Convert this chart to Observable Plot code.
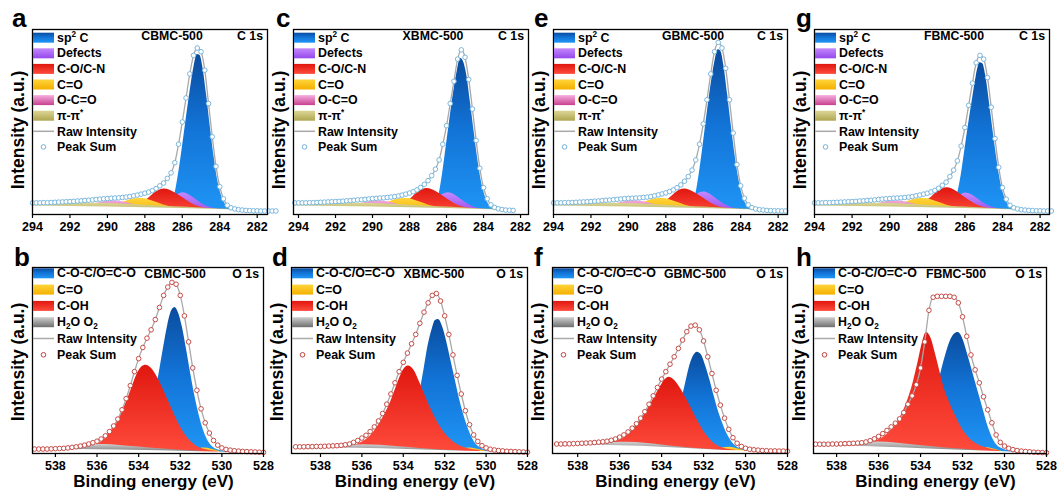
<!DOCTYPE html>
<html><head><meta charset="utf-8">
<script src="https://cdn.jsdelivr.net/npm/d3@7"></script>
<script src="https://cdn.jsdelivr.net/npm/@observablehq/plot@0.6"></script>
<style>
html,body{margin:0;padding:0;background:#fff;}
#root{position:relative;width:1059px;height:492px;overflow:hidden;background:#fff;font-family:"Liberation Sans",Arial,sans-serif;}
#root svg{position:absolute;}
</style></head><body><div id="root"></div>
<script>
// ---------------- data ----------------
const STEP = 0.2;
const c1sTicks = [294, 292, 290, 288, 286, 284, 282];
const o1sTicks = [538, 536, 534, 532, 530, 528];
const samples = ["CBMC-500", "XBMC-500", "GBMC-500", "FBMC-500"];
const c1sLegend = ["sp^2 C", "Defects", "C-O/C-N", "C=O", "O-C=O", "π-π^*"];
const o1sLegend = ["C-O-C/O=C-O", "C=O", "C-OH", "H_2O O_2"];
const lineLegend = ["Raw Intensity", "Peak Sum"];

// Peak-sum intensities on a 0.2 eV grid (start energy given per panel)
const sumA = [6.3,6.3,6.3,6.4,6.4,6.5,6.6,6.7,6.8,6.9,7.0,7.1,7.3,7.4,7.6,7.7,7.9,8.1,8.3,8.5,8.6,8.8,8.9,9.0,9.2,9.4,9.7,10.1,10.5,11.0,11.5,
  12.1,12.9,14.0,15.5,17,19.5,22.5,28,38,50,63,76,86,90,88,78,60,42,26,15,8.5,5,3.6,3.0,2.6,2.4,2.2,2.1,2.0,2.0,1.9,1.9,1.9,1.9,1.9];
const sumC = [6.3,6.3,6.3,6.3,6.4,6.4,6.5,6.6,6.7,6.8,6.9,7.0,7.1,7.2,7.4,7.5,7.7,7.9,8.0,8.2,8.4,8.6,8.7,8.9,9.0,9.2,9.4,9.7,10.0,10.5,11.0,11.6,
  12.3,13.3,14.6,16.3,18.3,21,24.5,29.5,38,48,60,72,84,89,85,73,57,40,25,14.5,8.5,5.2,3.8,3.1,2.7,2.4,2.3,2.2];
const sumE = [6.3,6.3,6.3,6.4,6.4,6.5,6.6,6.7,6.8,6.9,7.0,7.2,7.3,7.5,7.7,7.8,8.0,8.2,8.4,8.6,8.7,8.8,8.9,9.0,9.2,9.4,9.7,10.1,10.6,11.1,11.7,
  12.4,13.3,14.5,16,18,20.5,24,29.5,38,49,62,76,88,93,90,79,62,44,27,15.5,8.8,5.2,3.7,3.0,2.6,2.4,2.2,2.1,2.0,2.0,1.9,1.9];
const sumG = [6.3,6.3,6.3,6.4,6.4,6.5,6.6,6.7,6.8,6.9,7.0,7.1,7.3,7.4,7.6,7.7,7.9,8.1,8.3,8.5,8.6,8.8,8.9,9.0,9.2,9.4,9.7,10.1,10.5,11.0,11.5,
  12.2,13.0,14.2,15.8,17.5,20.5,24,29,37,47,59,71,82,86,84,74,58,41,25.5,14.5,8.3,5,3.6,3.0,2.6,2.4,2.2,2.1,2.0,2.0,1.9,1.9,1.9];
const sumB = [2.4,2.4,2.4,2.4,2.5,2.6,2.7,2.8,3.0,3.3,3.6, 4.0,4.5,5.1,5.8,6.6,7.8,9.5,11.8,14.8,18.5, 23.5,29.5,36.5,44,51,57,62,66.5,72,78.5,
  85,89.5,92,91,85,74,60,46,34,24, 16.5,11,7,4.5,3.0,2.2,1.8,1.5,1.3,1.1, 1.0,0.9,0.8,0.7,0.6];
const sumD = [3.6,3.6,3.6,3.7,3.7,3.8,3.8,3.9,4.0,4.1,4.2,4.4, 4.7,5.1,6.0,7.0,8.3,9.8,11.8,14.3,17.5,21.5, 26.5,32,38,44,49,54,59,64,70,76,
  81,85,86,82,74,64,53,42,32,23, 15.5,10,6.5,4.2,3.0,2.3,1.9,1.6,1.4,1.2, 1.1,1.0,0.9,0.8,0.7];
const sumF = [5.1,5.1,5.2,5.2,5.3,5.4,5.5,5.6,5.7,5.9,6.1, 6.3,6.6,7.1,7.8,8.8,10.0,11.6,13.6,16,19, 22.5,26.5,31,35.5,40,44,48,52,56.5,61,
  65.5,68.5,69,66.5,60.5,52,43,34,26,19, 13,8.5,5.5,3.8,2.8,2.3,2.0,1.8,1.6,1.5, 1.4,1.4,1.3,1.3,1.2];
const sumH = [5.0,5.0,5.0,5.0,5.1,5.1,5.2,5.3,5.4,5.5,5.6, 5.8,6.2,6.9,7.9,9.2,10.7,12.4,14.3,16.3,18.6, 22,26.5,31,37,46,60,77,84,84.5,84.5,
  84.5,84.5,84,81,73.5,63,53,45,38,30.5, 23.5,16.5,10,6,4,2.8,2.1,1.6,1.3,1.1, 0.9,0.7,0.6,0.5,0.4];

// C 1s fitted components: [binding energy, intensity]
const aSp2 = [[287.0,3.6],[286.6,6],[286.4,11],[286.2,22],[286.0,36],[285.8,51],[285.6,65.5],[285.4,78.5],[285.2,86.5],[285.05,86],[284.9,79.5],[284.7,64.5],[284.5,47],[284.3,31],[284.1,18],[283.9,10],[283.7,5.5],[283.5,3.4],[283.2,2.5]];
const aDefects = [[287.0,4.0],[286.7,6],[286.4,9],[286.15,11.2],[285.95,11.8],[285.7,11],[285.4,9],[285.1,6.8],[284.8,5],[284.5,3.8],[284.2,3.0],[283.9,2.7]];
const aCON = [[288.6,4.0],[288.2,6],[287.8,8.8],[287.5,11.5],[287.2,13.2],[286.95,13.8],[286.7,13.3],[286.4,11.8],[286.1,9.8],[285.8,7.8],[285.5,6],[285.2,4.6],[284.9,3.7],[284.5,3.1]];
const cSp2 = [[287.0,3.6],[286.6,6],[286.4,11],[286.2,23],[286.0,38],[285.8,53],[285.6,67],[285.4,78.5],[285.25,84.5],[285.1,83],[284.9,75],[284.7,60],[284.5,44],[284.3,29],[284.1,17],[283.9,9.5],[283.7,5.2],[283.5,3.4],[283.2,2.5]];
const cDefects = [[287.0,4.0],[286.7,6.2],[286.4,9.3],[286.1,11.3],[285.9,11.7],[285.6,10.8],[285.3,8.8],[285.0,6.6],[284.7,4.9],[284.4,3.7],[284.1,3.0],[283.8,2.7]];
const cCON = [[288.7,4.0],[288.3,6],[287.9,8.8],[287.6,11.6],[287.3,13.4],[287.05,14],[286.8,13.5],[286.5,12],[286.2,10],[285.9,8],[285.6,6.1],[285.3,4.7],[285.0,3.8],[284.6,3.1]];
const eSp2 = [[287.0,3.6],[286.6,6],[286.4,11],[286.2,23],[286.0,38],[285.8,54],[285.6,69],[285.4,81.5],[285.2,89],[285.05,88],[284.9,80.5],[284.7,65],[284.5,48],[284.3,32],[284.1,19],[283.9,10],[283.7,5.5],[283.5,3.4],[283.2,2.5]];
const eDefects = [[287.0,4.0],[286.7,6.5],[286.4,9.8],[286.15,11.9],[285.95,12.2],[285.7,11.4],[285.4,9.3],[285.1,7.0],[284.8,5.1],[284.5,3.8],[284.2,3.0],[283.9,2.7]];
const eCON = [[288.6,4.0],[288.2,6],[287.8,8.8],[287.5,11.5],[287.25,13.2],[287.0,13.8],[286.75,13.3],[286.45,11.8],[286.15,9.8],[285.85,7.8],[285.55,6],[285.25,4.6],[284.95,3.7],[284.5,3.1]];
const gSp2 = [[287.0,3.6],[286.6,6],[286.4,11],[286.2,21],[286.0,35],[285.8,49],[285.6,62],[285.4,74.5],[285.2,82],[285.05,81.5],[284.9,75.5],[284.7,61],[284.5,45],[284.3,30],[284.1,17.5],[283.9,9.8],[283.7,5.4],[283.5,3.4],[283.2,2.5]];
const gDefects = [[287.0,4.0],[286.7,6],[286.4,9],[286.15,11],[285.95,11.6],[285.7,10.9],[285.4,9],[285.1,6.8],[284.8,5],[284.5,3.8],[284.2,3.0],[283.9,2.7]];
const gCON = [[288.6,4.0],[288.2,6.2],[287.8,9.2],[287.5,12],[287.2,13.8],[286.95,14.4],[286.7,13.9],[286.4,12.2],[286.1,10],[285.8,7.9],[285.5,6],[285.2,4.6],[284.9,3.7],[284.5,3.1]];
const c1sCdO = [[289.8,4.2],[289.3,5.8],[288.9,7.6],[288.5,8.5],[288.15,8.6],[287.8,8.0],[287.4,6.6],[287.0,5.2],[286.6,4.2],[286.2,3.6]];
const c1sOCO = [[291.2,4.4],[290.7,5.6],[290.2,6.9],[289.7,7.4],[289.2,6.9],[288.7,5.7],[288.2,4.5],[287.8,3.8]];
const c1sPiPi = [[294.3,5.4],[293,5.7],[292,6.0],[291,6.1],[290,5.9],[289,5.5],[288,5.0],[287,4.5],[286,4.0],[285,3.5],[284,3.0],[283,2.6],[282.5,2.3]];
const c1sBase = [[294.3,4.6],[292,4.3],[290,4.0],[288,3.6],[286,3.2],[284,2.7],[283,2.4],[282,2.1],[281,1.9]];

// O 1s fitted components
const bCOC = [[534.0,3],[533.6,12],[533.3,26],[533.0,44],[532.8,57],[532.6,69],[532.4,77],[532.25,78.5],[532.1,76],[531.9,68],[531.7,56],[531.5,43],[531.3,31],[531.1,21],[530.9,13],[530.7,7.5],[530.5,4.2],[530.2,2],[529.9,1.2],[529.5,0.9]];
const bCdO = [[531.7,1.1],[531.2,2.3],[530.85,2.9],[530.5,2.3],[530.1,1.1]];
const bCOH = [[537.0,2.1],[536.5,2.8],[536.0,4.6],[535.6,8],[535.2,14],[534.8,22],[534.4,33],[534.1,42],[533.85,46.5],[533.65,47.5],[533.4,46],[533.1,41],[532.8,34],[532.5,26.5],[532.2,19],[531.9,12.5],[531.6,7.8],[531.3,4.6],[531.0,2.8],[530.6,1.6],[530.2,1.1]];
const bH2O = [[538.8,2.1],[538.0,2.5],[537.2,3.2],[536.5,4.2],[535.9,4.9],[535.3,4.7],[534.5,3.9],[533.5,3.0],[532.5,2.2],[531.5,1.5],[531.0,1.2]];
const bBase = [[539.1,2.0],[537,2.1],[535,1.9],[533,1.5],[531,1.0],[529,0.6],[528,0.5]];
const dCOC = [[534.0,4],[533.6,13],[533.3,27],[533.0,45],[532.8,58],[532.6,67],[532.45,71.5],[532.3,72],[532.1,68],[531.9,60],[531.7,50],[531.5,40],[531.3,30],[531.1,21.5],[530.9,14.5],[530.7,9],[530.5,5.2],[530.2,2.6],[529.9,1.5],[529.5,1.0]];
const dCdO = [[531.6,1.5],[531.1,2.7],[530.75,3.0],[530.4,2.3],[530.0,1.2]];
const dCOH = [[537.2,3.0],[536.6,3.8],[536.1,5.5],[535.7,8.3],[535.3,13.5],[534.9,21],[534.6,28],[534.3,37],[534.1,42.5],[533.9,46.2],[533.75,47],[533.5,45],[533.2,38],[532.9,30],[532.6,22.5],[532.3,16],[532.0,11],[531.6,6.5],[531.2,3.8],[530.8,2.4],[530.3,1.6]];
const dH2O = [[539.4,3.1],[538.5,3.3],[537.5,3.7],[536.6,4.3],[535.9,4.7],[535.1,4.4],[534.2,3.6],[533.2,2.7],[532.2,1.9],[531.2,1.4]];
const dBase = [[539.4,2.9],[537,2.9],[535,2.5],[533,1.9],[531,1.2],[529,0.8],[528,0.7]];
const fCOC = [[533.8,5],[533.4,14],[533.1,26],[532.85,38],[532.65,47.5],[532.45,53],[532.3,54.5],[532.1,53],[531.9,47],[531.7,39.5],[531.5,31],[531.3,23],[531.1,16.5],[530.9,11],[530.7,7],[530.5,4.3],[530.2,2.4],[529.9,1.6]];
const fCdO = [[531.6,1.9],[531.1,3.0],[530.75,3.3],[530.4,2.5],[530.0,1.5]];
const fCOH = [[537.0,5.0],[536.3,6.3],[535.8,8.5],[535.4,12.5],[535.0,18],[534.6,25],[534.3,31],[534.0,37],[533.8,40],[533.65,41],[533.4,39.5],[533.1,35],[532.8,29],[532.5,22.5],[532.2,16],[531.9,10.5],[531.6,6.5],[531.3,4],[531.0,2.7],[530.5,1.8]];
const fH2O = [[539.2,4.6],[538.2,4.9],[537.2,5.4],[536.4,5.9],[535.6,6.0],[534.8,5.5],[534.0,4.6],[533.0,3.4],[532.0,2.4],[531.2,1.8]];
const fBase = [[539.2,4.4],[537,4.5],[535,3.9],[533,2.8],[531,1.6],[529,1.2],[528,1.1]];
const hCOC = [[534.0,6],[533.7,14],[533.4,26],[533.1,40],[532.8,53],[532.6,60],[532.4,64],[532.2,65],[532.0,62],[531.8,55],[531.6,47],[531.4,39],[531.2,31],[531.0,23],[530.8,15],[530.6,9],[530.4,5],[530.1,2.5],[529.8,1.4],[529.4,0.8]];
const hCdO = [[531.6,1.3],[531.1,2.7],[530.8,3.1],[530.5,2.4],[530.1,1.1]];
const hCOH = [[537.2,4.6],[536.6,5.6],[536.1,7],[535.7,9.3],[535.3,14],[535.0,19],[534.7,26],[534.4,36],[534.1,50],[533.9,60],[533.72,65],[533.5,62],[533.3,54],[533.1,45],[532.9,36],[532.6,27],[532.3,19.5],[532.0,13],[531.7,8.5],[531.4,5.7],[531.0,3.5],[530.6,2.2],[530.2,1.4]];
const hH2O = [[539.1,4.2],[538.3,4.6],[537.5,5.3],[536.7,6.0],[536.0,6.2],[535.2,5.7],[534.3,4.6],[533.3,3.5],[532.3,2.5],[531.3,1.6]];
const hBase = [[539.1,3.9],[537,3.9],[535,3.1],[533,2.2],[531,1.3],[529,0.6],[528,0.4]];

// ---------------- layout ----------------
const c1sGrads = ["gBlue", "gPurple", "gRed", "gYellow", "gPink", "gOlive"];
const o1sGrads = ["gBlue", "gYellow", "gRed", "gGray"];
const panels = [
  {L:"a", row:0, s:0, fx0:32,  fx1:267,  dom:[294,281.45],  start:294.0, sum:sumA, comps:[aSp2,aDefects,aCON,c1sCdO,c1sOCO,c1sPiPi], base:c1sBase, lx:12},
  {L:"c", row:0, s:1, fx0:293, fx1:528,  dom:[294.27,281.57],start:294.2, sum:sumC, comps:[cSp2,cDefects,cCON,c1sCdO,c1sOCO,c1sPiPi], base:c1sBase, lx:276},
  {L:"e", row:0, s:2, fx0:553, fx1:787,  dom:[294,281.5],   start:294.0, sum:sumE, comps:[eSp2,eDefects,eCON,c1sCdO,c1sOCO,c1sPiPi], base:c1sBase, lx:534},
  {L:"g", row:0, s:3, fx0:814, fx1:1049, dom:[294,281.5],   start:294.0, sum:sumG, comps:[gSp2,gDefects,gCON,c1sCdO,c1sOCO,c1sPiPi], base:c1sBase, lx:796},
  {L:"b", row:1, s:0, fx0:32,  fx1:263,  dom:[539.1,528],   start:539.0, sum:sumB, comps:[bCOC,bCdO,bCOH,bH2O], base:bBase, lx:14},
  {L:"d", row:1, s:1, fx0:291, fx1:527,  dom:[539.4,528],   start:539.2, sum:sumD, comps:[dCOC,dCdO,dCOH,dH2O], base:dBase, lx:272},
  {L:"f", row:1, s:2, fx0:552, fx1:787,  dom:[539.2,528],   start:539.0, sum:sumF, comps:[fCOC,fCdO,fCOH,fH2O], base:fBase, lx:534},
  {L:"h", row:1, s:3, fx0:813, fx1:1046, dom:[539.1,528],   start:539.0, sum:sumH, comps:[hCOC,hCdO,hCOH,hH2O], base:hBase, lx:796}
];
const rowFrame = [[29, 214], [267, 453]];

const root = document.getElementById("root");

// gradient definitions
const defsSvg = d3.select(root).append("svg").attr("width", 0).attr("height", 0).style("left", 0).style("top", 0);
const defs = defsSvg.append("defs");
const gradStops = {
  gBlue:   [["0%", "#0a4c9e"], ["45%", "#1273d6"], ["100%", "#1f96f6"]],
  gPurple: [["0%", "#c489ff"], ["100%", "#9548ea"]],
  gRed:    [["0%", "#e0170f"], ["100%", "#ff4c3c"]],
  gYellow: [["0%", "#ffd43a"], ["100%", "#f4b000"]],
  gPink:   [["0%", "#f5aee0"], ["100%", "#c8408e"]],
  gOlive:  [["0%", "#dcd696"], ["100%", "#aea650"]],
  gGray:   [["0%", "#d0d0d0"], ["100%", "#6e6e6e"]]
};
for (const [id, stops] of Object.entries(gradStops)) {
  const lg = defs.append("linearGradient").attr("id", id).attr("x1", 0).attr("y1", 0).attr("x2", 0).attr("y2", 1);
  for (const [o, c] of stops) lg.append("stop").attr("offset", o).attr("stop-color", c);
}

const mL = 16, mR = 16, mT = 4, mB = 24;
for (const p of panels) {
  const [fy0, fy1] = rowFrame[p.row];
  const W = p.fx1 - p.fx0 + mL + mR, H = fy1 - fy0 + mT + mB;
  const isC = p.row === 0;
  const grads = isC ? c1sGrads : o1sGrads;
  const pts = p.sum.map((v, i) => ({e: +(p.start - i * STEP).toFixed(2), v}));
  const marks = [];
  p.comps.forEach((c, k) => marks.push(Plot.areaY(c, {x: d => d[0], y1: 0, y2: d => d[1], fill: `url(#${grads[k]})`, curve: "monotone-x", clip: true})));
  marks.push(Plot.areaY(p.base, {x: d => d[0], y1: 0, y2: d => d[1], fill: "white", clip: true}));
  marks.push(Plot.line(pts, {x: "e", y: "v", stroke: "#a9a9a9", strokeWidth: 1.3, curve: "monotone-x"}));
  marks.push(Plot.dot(pts, {x: "e", y: "v", r: 2.3, stroke: isC ? "#74b3da" : "#c3433e", fill: "white", strokeWidth: 0.95}));
  marks.push(Plot.frame({stroke: "black", strokeWidth: 1.3}));
  marks.push(Plot.axisX({ticks: isC ? c1sTicks : o1sTicks, tickSize: 4, tickPadding: 4, tickFormat: d => String(d), label: null, strokeWidth: 1.2}));
  const svg = Plot.plot({
    width: W, height: H, marginLeft: mL, marginRight: mR, marginTop: mT, marginBottom: mB,
    x: {domain: p.dom}, y: {domain: [0, 100], axis: null},
    style: {fontFamily: "Liberation Sans, Arial, sans-serif", fontSize: "12.5px", fontWeight: "bold", color: "black", background: "transparent", overflow: "visible"},
    marks
  });
  svg.style.position = "absolute";
  svg.style.left = (p.fx0 - mL) + "px";
  svg.style.top = (fy0 - mT) + "px";
  root.appendChild(svg);
}

// overlay text, legends
const ov = d3.select(root).append("svg").attr("width", 1059).attr("height", 492).style("left", 0).style("top", 0)
  .attr("font-family", "Liberation Sans, Arial, sans-serif");

function addText(str, x, y, size, anchor) {
  const t = ov.append("text").attr("x", x).attr("y", y).attr("font-size", size).attr("font-weight", "bold")
    .attr("text-anchor", anchor || "start").attr("fill", "#000").style("white-space", "pre");
  const parts = str.split(/([\^_].)/).filter(s => s.length);
  let shift = 0;
  for (const part of parts) {
    if (part[0] === "^" || part[0] === "_") {
      const d = part[0] === "^" ? -4.5 : 3;
      t.append("tspan").attr("dy", d - shift).attr("font-size", size * 0.66).text(part.slice(1));
      shift = d;
    } else {
      const ts = t.append("tspan").text(part);
      if (shift) ts.attr("dy", -shift);
      shift = 0;
    }
  }
  return t;
}

for (const p of panels) {
  const [fy0, fy1] = rowFrame[p.row];
  const isC = p.row === 0;
  // panel letter
  addText(p.L, p.lx, isC ? 27 : 266, 26, "start");
  // y label
  const yc = isC ? 130 : 362;
  addText("Intensity (a.u.)", 0, 0, 17.5, "middle").attr("transform", `translate(${p.fx0 - 8},${yc}) rotate(-90)`);
  // x label
  if (!isC) addText("Binding energy (eV)", (p.fx0 + p.fx1) / 2 + 6, 487, 17, "middle");
  // sample / core level
  addText(samples[p.s], p.fx0 + (isC ? 140 : 143), fy0 + (isC ? 11.3 : 10.8), 12.3, "middle");
  addText(isC ? "C 1s" : "O 1s", p.fx1 - 4, fy0 + (isC ? 11.3 : 10.8), 12.3, "end");
  // legend
  const labels = isC ? c1sLegend : o1sLegend;
  const grads = isC ? c1sGrads : o1sGrads;
  const top0 = isC ? fy0 + 3.7 : fy0 + 1.3;
  const sp = isC ? 15.6 : 16.3;
  labels.forEach((lab, i) => {
    const ty = top0 + i * sp;
    ov.append("rect").attr("x", p.fx0 + 1).attr("y", ty).attr("width", 21).attr("height", 10).attr("fill", `url(#${grads[i]})`);
    addText(lab, p.fx0 + 25, ty + 9, 12.4, "start");
  });
  const n = labels.length;
  const ry = top0 + n * sp + 5;
  ov.append("line").attr("x1", p.fx0 + 1).attr("x2", p.fx0 + 22).attr("y1", ry).attr("y2", ry).attr("stroke", "#a9a9a9").attr("stroke-width", 1.5);
  addText(lineLegend[0], p.fx0 + 25, ry + 4.4, 12.4, "start");
  const py = top0 + (n + 1) * sp + 5;
  ov.append("circle").attr("cx", p.fx0 + 11.5).attr("cy", py).attr("r", 2.3).attr("fill", "white")
    .attr("stroke", isC ? "#74b3da" : "#c3433e").attr("stroke-width", 1);
  addText(lineLegend[1], p.fx0 + 25, py + 4.4, 12.4, "start");
}
</script></body></html>
